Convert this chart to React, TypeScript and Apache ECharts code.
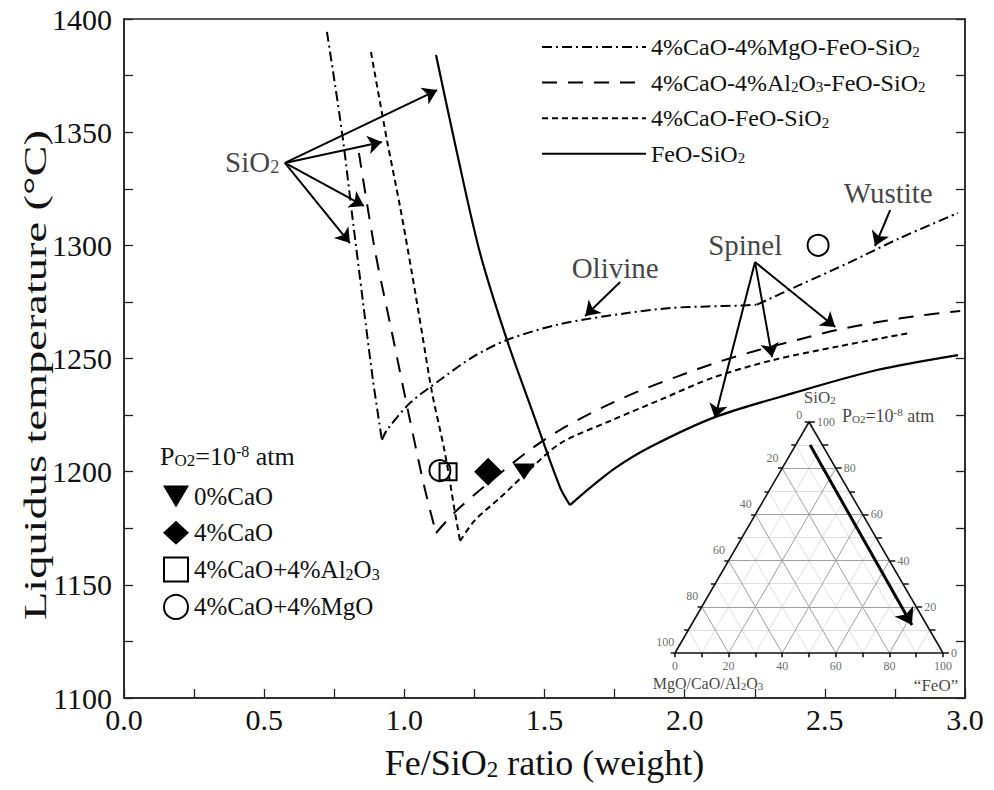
import { useEffect, useRef } from "react";
import * as echarts from "echarts";

const FONT = "'Liberation Serif', 'Times New Roman', Times, serif";

// ---------- axis tick labels ----------
const xLabelValues = [0, 0.5, 1.0, 1.5, 2.0, 2.5, 3.0];
const yLabelValues = [1100, 1150, 1200, 1250, 1300, 1350, 1400];

// ---------- liquidus curves [Fe/SiO2, T(°C)] ----------
const mgoLeft = [[0.724, 1394.3], [0.778, 1349.6], [0.813, 1314.3], [0.853, 1274.5], [0.888, 1240.5], [0.920, 1214.0]];
const mgoOlivine = [[0.920, 1214.0], [0.938, 1218.4], [1.020, 1230.3], [1.127, 1240.5], [1.245, 1250.7], [1.366, 1258.2], [1.556, 1265.2], [1.795, 1270.1], [1.948, 1272.3], [2.080, 1273.0], [2.200, 1273.4], [2.258, 1273.8]];
const mgoWustite = [[2.258, 1273.8], [2.411, 1282.5], [2.590, 1292.6], [2.768, 1303.2], [2.975, 1314.3]];

const alLeft = [[0.838, 1340.8], [0.895, 1297.9], [0.956, 1261.3], [1.020, 1222.8], [1.074, 1191.9], [1.113, 1172.9]];
const alRight = [[1.113, 1172.9], [1.181, 1182.2], [1.270, 1191.9], [1.438, 1208.7], [1.556, 1218.5], [1.709, 1228.5], [1.837, 1235.6], [1.973, 1242.0], [2.116, 1248.3], [2.251, 1253.3], [2.401, 1258.2], [2.544, 1262.6], [2.690, 1266.1], [2.851, 1269.2], [2.983, 1271.0]];

const caoLeft = [[0.881, 1385.4], [0.938, 1346.5], [0.985, 1316.9], [1.027, 1287.8], [1.063, 1261.3], [1.099, 1234.8], [1.145, 1208.2], [1.181, 1181.7], [1.199, 1169.4]];
const caoRight = [[1.199, 1169.4], [1.252, 1178.6], [1.341, 1188.4], [1.438, 1199.8], [1.556, 1212.5], [1.734, 1222.4], [1.912, 1231.7], [2.100, 1241.5], [2.315, 1249.3], [2.554, 1255.5], [2.804, 1261.3]];

const feoLeft = [[1.113, 1384.1], [1.188, 1340.8], [1.270, 1296.6], [1.366, 1258.2], [1.459, 1225.9], [1.555, 1193.2], [1.591, 1185.2]];
const feoRight = [[1.591, 1185.2], [1.662, 1192.8], [1.752, 1201.6], [1.877, 1210.9], [2.108, 1224.1], [2.387, 1234.7], [2.686, 1244.9], [2.975, 1251.5]];

// ---------- experimental points ----------
const pts0CaO = [[1.427, 1200]];
const pts4CaO = [[1.299, 1200]];
const pts4CaOAl = [[1.156, 1200]];
const pts4CaOMgO = [[1.127, 1200.5], [2.476, 1300]];

// ---------- annotations (data coords) ----------
const annotNames = ["SiO{sub|2}", "Olivine", "Spinel", "Wustite"];
const annotPos = [[0.457, 1337.0], [1.752, 1290.0], [2.216, 1300.1], [2.726, 1323.1]];
const arrowFrom = [[0.574, 1336.4], [0.574, 1336.4], [0.574, 1336.4], [0.574, 1336.4], [1.770, 1283.8], [2.251, 1292.6], [2.251, 1292.6], [2.251, 1292.6], [2.733, 1315.6]];
const arrowTo = [[1.117, 1368.6], [0.920, 1345.7], [0.856, 1317.4], [0.806, 1301.0], [1.645, 1268.8], [2.108, 1223.7], [2.312, 1250.6], [2.537, 1263.9], [2.679, 1299.7]];

// ---------- ternary inset ----------
const ternLevels = [10, 20, 30, 40, 50, 60, 70, 80, 90];
const ternTicks = [0, 10, 20, 30, 40, 50, 60, 70, 80, 90, 100];
const ternLabels = [0, 20, 40, 60, 80, 100];
const ternArrow = [[50.4, 90.0], [88.4, 12.1]];

const NAME_MGO = "4%CaO-4%MgO-FeO-SiO2";
const NAME_AL = "4%CaO-4%Al2O3-FeO-SiO2";
const NAME_CAO = "4%CaO-FeO-SiO2";
const NAME_FEO = "FeO-SiO2";
const NAME_P0 = "0%CaO";
const NAME_P4 = "4%CaO";
const NAME_PAL = "4%CaO+4%Al2O3";
const NAME_PMG = "4%CaO+4%MgO";

const subify = (s: string) => s.replace(/([A-Za-z])(\d)/g, "$1{sub|$2}");

const DASH_MGO = [10, 4, 2, 4];
const DASH_AL = [15, 11];
const DASH_CAO = [6, 4];

const TRI_PATH = "path://M0,0L20,0L10,17Z";
const HIDDEN = { color: "rgba(0,0,0,0)", borderColor: "rgba(0,0,0,0)", borderWidth: 0, opacity: 0 };

function curve(name: string, data: number[][], type: any, width = 2) {
  return {
    type: "line",
    name,
    data,
    xAxisIndex: 0,
    yAxisIndex: 0,
    symbol: "none",
    smooth: 0.3,
    silent: true,
    lineStyle: { color: "#000", width, type },
    itemStyle: { color: "#000" },
    z: 3,
  };
}

function buildOption() {
  const minor: any[] = [];
  const major: any[] = [];
  ternLevels.forEach((L) => {
    const target = L % 20 === 0 ? major : minor;
    target.push({ coords: [[L / 2, L], [100 - L / 2, L]] });
    target.push({ coords: [[L, 0], [L + (100 - L) / 2, 100 - L]] });
    target.push({ coords: [[100 - L, 0], [(100 - L) / 2, 100 - L]] });
  });
  const edges = [
    { coords: [[0, 0], [100, 0]] },
    { coords: [[100, 0], [50, 100]] },
    { coords: [[50, 100], [0, 0]] },
  ];
  const ticks: any[] = [];
  ternTicks.forEach((v) => {
    ticks.push({ coords: [[v / 2, v], [v / 2 - 1.6, v]] });
    ticks.push({ coords: [[v, 0], [v, -1.8]] });
    ticks.push({ coords: [[100 - v / 2, v], [100 - v / 2 + 2.2, v]] });
  });

  const tern = { xAxisIndex: 1, yAxisIndex: 2 };
  const ternLabelStyle = { fontFamily: FONT, fontSize: 12, color: "#444" };
  const richSub = (fs: number, lh: number) => ({
    sub: { fontFamily: FONT, fontSize: fs, lineHeight: lh, verticalAlign: "bottom", color: "#111" },
    sup: { fontFamily: FONT, fontSize: fs, lineHeight: lh, verticalAlign: "top", color: "#111" },
  });

  const series: any[] = [
    curve(NAME_MGO, mgoLeft, DASH_MGO),
    curve(NAME_MGO, mgoOlivine, DASH_MGO),
    curve(NAME_MGO, mgoWustite, DASH_MGO),
    curve(NAME_AL, alLeft, DASH_AL),
    curve(NAME_AL, alRight, DASH_AL),
    curve(NAME_CAO, caoLeft, DASH_CAO),
    curve(NAME_CAO, caoRight, DASH_CAO),
    curve(NAME_FEO, feoLeft, "solid", 2.2),
    curve(NAME_FEO, feoRight, "solid", 2.2),
    {
      type: "scatter", name: NAME_PMG, data: pts4CaOMgO, symbol: "circle", symbolSize: 21,
      itemStyle: { color: "rgba(255,255,255,0)", borderColor: "#000", borderWidth: 2, opacity: 1 }, z: 5, silent: true,
    },
    {
      type: "scatter", name: NAME_PAL, data: pts4CaOAl, symbol: "rect", symbolSize: 17,
      itemStyle: { color: "rgba(255,255,255,0)", borderColor: "#000", borderWidth: 2, opacity: 1 }, z: 5, silent: true,
    },
    {
      type: "scatter", name: NAME_P4, data: pts4CaO, symbol: "diamond", symbolSize: 28,
      itemStyle: { color: "#000", opacity: 1 }, z: 5, silent: true,
    },
    {
      type: "scatter", name: NAME_P0, data: pts0CaO, symbol: TRI_PATH, symbolSize: [22, 19], symbolKeepAspect: true,
      itemStyle: { color: "#000", opacity: 1 }, z: 5, silent: true,
    },
    {
      type: "lines", coordinateSystem: "cartesian2d", xAxisIndex: 0, yAxisIndex: 0, silent: true, z: 4,
      symbol: ["none", "arrow"], symbolSize: 14,
      lineStyle: { color: "#000", width: 2, opacity: 1, curveness: 0 },
      data: arrowFrom.map((f, i) => ({ coords: [f, arrowTo[i]] })),
    },
    {
      type: "scatter", name: "annot", xAxisIndex: 0, yAxisIndex: 0, silent: true, symbolSize: 0, z: 6,
      itemStyle: { color: "rgba(0,0,0,0)" },
      data: annotPos.map((p, i) => ({ value: p, name: annotNames[i] })),
      label: {
        show: true, position: "inside", formatter: "{b}", fontFamily: FONT, fontSize: 29, color: "#111",
        lineHeight: 29, rich: richSub(18, 12),
      },
    },
    { type: "lines", coordinateSystem: "cartesian2d", ...tern, silent: true, z: 1, data: minor, lineStyle: { color: "#d6d6d6", width: 0.8, opacity: 1 } },
    { type: "lines", coordinateSystem: "cartesian2d", ...tern, silent: true, z: 1, data: major, lineStyle: { color: "#a0a0a0", width: 1, opacity: 1 } },
    { type: "lines", coordinateSystem: "cartesian2d", ...tern, silent: true, z: 2, data: [...edges, ...ticks], lineStyle: { color: "#111", width: 1.6, opacity: 1 } },
    {
      type: "lines", coordinateSystem: "cartesian2d", ...tern, silent: true, z: 3,
      symbol: ["none", "arrow"], symbolSize: 16,
      data: [{ coords: ternArrow }], lineStyle: { color: "#000", width: 3, opacity: 1 },
    },
    {
      type: "scatter", name: "ternBottom", ...tern, silent: true, symbolSize: 0, itemStyle: { color: "rgba(0,0,0,0)" },
      data: ternLabels.map((b) => ({ value: [b, -5.6], name: String(b) })),
      label: { show: true, position: "inside", formatter: "{b}", ...ternLabelStyle },
    },
    {
      type: "scatter", name: "ternRight", ...tern, silent: true, symbolSize: 0, itemStyle: { color: "rgba(0,0,0,0)" },
      data: ternLabels.map((a) => ({ value: [100 - a / 2 + 3, a], name: String(a) })),
      label: { show: true, position: "inside", align: "left", formatter: "{b}", ...ternLabelStyle },
    },
    {
      type: "scatter", name: "ternLeft", ...tern, silent: true, symbolSize: 0, itemStyle: { color: "rgba(0,0,0,0)" },
      data: ternLabels.map((c) => ({ value: [(100 - c) / 2 - 3.6, 100 - c + (c === 0 ? 3.0 : 4.6)], name: String(c) })),
      label: { show: true, position: "inside", formatter: "{b}", ...ternLabelStyle },
    },
    {
      type: "scatter", name: "ternTitles", ...tern, silent: true, symbolSize: 0, itemStyle: { color: "rgba(0,0,0,0)" },
      data: [
        { value: [54.0, 110.8], name: "SiO{sub|2}", label: { fontSize: 17, lineHeight: 17 } },
        { value: [62.3, 102.6], name: "P{sub|O2}=10{sup|-8} atm", label: { align: "left", fontSize: 18, lineHeight: 18 } },
        { value: [12.3, -13.4], name: "MgO/CaO/Al{sub|2}O{sub|3}", label: { fontSize: 16, lineHeight: 16 } },
        { value: [97.4, -13.9], name: "\u201CFeO\u201D", label: { fontSize: 17, lineHeight: 17 } },
      ],
      label: { show: true, position: "inside", formatter: "{b}", fontFamily: FONT, color: "#111", rich: richSub(11, 8) },
    },
  ];

  return {
    animation: false,
    backgroundColor: "#fff",
    grid: [
      { left: 124, top: 19, width: 841, height: 679, show: true, borderColor: "#222", borderWidth: 1.5, backgroundColor: "rgba(0,0,0,0)" },
      { left: 634.8, top: 387.35, width: 348.4, height: 300.3, show: false },
    ],
    xAxis: [
      {
        type: "value", gridIndex: 0, min: 0, max: 3, interval: 0.25,
        axisLine: { show: true, lineStyle: { color: "#222", width: 1.5 } },
        axisTick: { show: true, inside: true, length: 9, lineStyle: { color: "#222", width: 1.3 } },
        splitLine: { show: false },
        axisLabel: {
          fontFamily: FONT, fontSize: 30, color: "#111", margin: 6,
          formatter: (v: number) => (xLabelValues.some((l) => Math.abs(l - v) < 1e-6) ? v.toFixed(1) : ""),
        },
        name: "Fe/SiO{sub|2} ratio (weight)",
        nameLocation: "middle",
        nameGap: 47,
        nameTextStyle: { fontFamily: FONT, fontSize: 36, color: "#111", lineHeight: 36, rich: { sub: { fontFamily: FONT, fontSize: 23, lineHeight: 18, verticalAlign: "bottom", color: "#111" } } },
      },
      { type: "value", gridIndex: 1, min: -15, max: 115, show: false },
    ],
    yAxis: [
      {
        type: "value", gridIndex: 0, min: 1100, max: 1400, interval: 25,
        axisLine: { show: true, lineStyle: { color: "#222", width: 1.5 } },
        axisTick: { show: true, inside: true, length: 9, lineStyle: { color: "#222", width: 1.3 } },
        splitLine: { show: false },
        axisLabel: {
          fontFamily: FONT, fontSize: 30, color: "#111", margin: 12,
          formatter: (v: number) => (yLabelValues.includes(v) ? String(v) : ""),
        },
      },
      {
        type: "value", gridIndex: 0, min: 1100, max: 1400, interval: 25, position: "right",
        axisLine: { show: true, lineStyle: { color: "#222", width: 1.5 } },
        axisTick: { show: true, inside: true, length: 9, lineStyle: { color: "#222", width: 1.3 } },
        axisLabel: { show: false },
        splitLine: { show: false },
      },
      { type: "value", gridIndex: 1, min: -15, max: 115, show: false },
    ],
    legend: [
      {
        orient: "vertical", left: 536, top: 30, itemWidth: 104, itemHeight: 24, itemGap: 11.6,
        selectedMode: false,
        data: [NAME_MGO, NAME_AL, NAME_CAO, NAME_FEO].map((n) => ({ name: n, itemStyle: HIDDEN })),
        formatter: (n: string) => subify(n),
        textStyle: { fontFamily: FONT, fontSize: 24, color: "#111", lineHeight: 24, rich: { sub: { fontFamily: FONT, fontSize: 15, lineHeight: 10, verticalAlign: "bottom", color: "#111" } } },
      },
      {
        orient: "vertical", left: 158, top: 479, itemWidth: 26, itemHeight: 24, itemGap: 11.3,
        selectedMode: false,
        data: [
          { name: NAME_P0, icon: TRI_PATH, itemStyle: { color: "#000", opacity: 1 } },
          { name: NAME_P4, icon: "diamond", itemStyle: { color: "#000", opacity: 1 } },
          { name: NAME_PAL, icon: "path://M0,0H20V20H0Z", itemStyle: { color: "rgba(255,255,255,0)", borderColor: "#000", borderWidth: 2, opacity: 1 } },
          { name: NAME_PMG, icon: "circle", itemStyle: { color: "rgba(255,255,255,0)", borderColor: "#000", borderWidth: 2, opacity: 1 } },
        ],
        formatter: (n: string) => subify(n),
        textStyle: { fontFamily: FONT, fontSize: 25, color: "#111", lineHeight: 25, rich: { sub: { fontFamily: FONT, fontSize: 16, lineHeight: 11, verticalAlign: "bottom", color: "#111" } } },
      },
    ],
    graphic: [
      {
        type: "text", x: 35, y: 375, rotation: Math.PI / 2, scaleX: 1.45, silent: true,
        style: { text: "Liquidus temperature (\u00B0C)", font: `32px ${FONT}`, fill: "#111", textAlign: "center", textVerticalAlign: "middle" },
      },
      {
        type: "text", x: 160, y: 456, silent: true,
        style: {
          text: "P{sub|O2}=10{sup|-8} atm", font: `26px ${FONT}`, fill: "#111", textAlign: "left", textVerticalAlign: "middle", lineHeight: 26,
          rich: {
            sub: { fontFamily: FONT, fontSize: 17, lineHeight: 14, verticalAlign: "bottom", fill: "#111" },
            sup: { fontFamily: FONT, fontSize: 16, lineHeight: 12, verticalAlign: "top", fill: "#111" },
          },
        },
      },
    ],
    series,
  };
}

export default function App() {
  const ref = useRef<HTMLDivElement>(null);
  useEffect(() => {
    if (!ref.current) return;
    const chart = echarts.init(ref.current, undefined, { renderer: "svg" });
    chart.setOption(buildOption() as any);
    return () => chart.dispose();
  }, []);
  return <div ref={ref} style={{ position: "absolute", left: 0, top: 0, width: 994, height: 790 }} />;
}
